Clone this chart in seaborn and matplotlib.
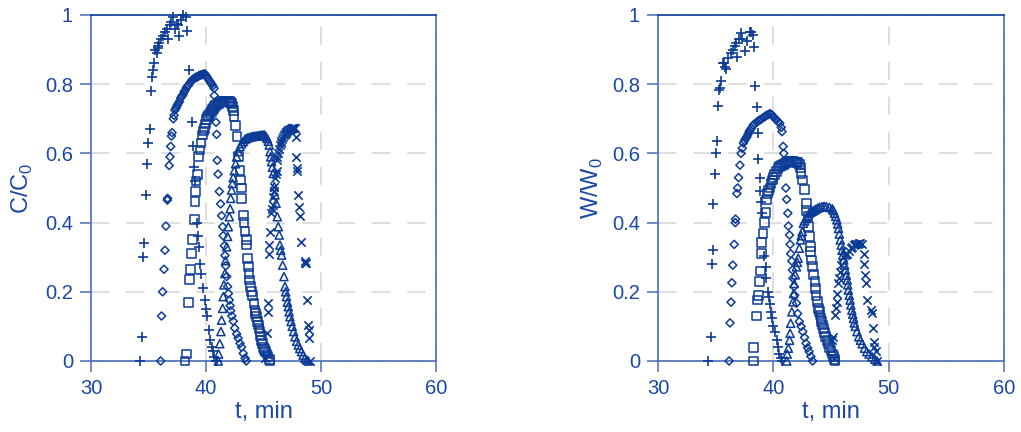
import matplotlib
matplotlib.use("Agg")
import matplotlib.pyplot as plt
import seaborn as sns
from matplotlib.ticker import FuncFormatter

# ---- data (t in min, relative values) ----
# left panel: C/C0
t_plus_c = [34.3, 34.45, 34.55, 34.64, 34.75, 34.9, 35.0, 35.13, 35.22, 35.3, 35.36, 35.5,
            35.6, 35.7, 35.8, 35.85, 35.95, 36.1, 36.25, 36.43, 36.6, 36.7, 36.87, 37.0,
            37.16, 37.3, 37.45, 37.6, 37.65, 37.8, 38.03, 38.3, 38.37, 38.55, 38.75, 38.84,
            38.99, 39.07, 39.19, 39.3, 39.39, 39.48, 39.57, 39.77, 39.9, 40.0, 40.1, 40.26,
            40.35, 40.5, 40.65, 40.7, 40.9, 41.0]
c_plus = [0.0, 0.07, 0.30, 0.34, 0.48, 0.57, 0.63, 0.67, 0.78, 0.82, 0.84, 0.86,
          0.90, 0.89, 0.91, 0.905, 0.92, 0.93, 0.94, 0.95, 0.96, 0.93, 0.97, 0.98,
          0.995, 0.96, 0.975, 0.97, 0.94, 0.985, 1.0, 0.995, 0.955, 0.84, 0.69, 0.62,
          0.56, 0.52, 0.40, 0.36, 0.33, 0.28, 0.25, 0.21, 0.175, 0.15, 0.13, 0.09,
          0.06, 0.04, 0.03, 0.012, 0.0, 0.0]

t_dia_c = [36.06, 36.14, 36.23, 36.35, 36.43, 36.52, 36.64, 36.66, 36.8, 36.87, 36.93, 37.0,
           37.05, 37.16, 37.23, 37.3, 37.38, 37.45, 37.52, 37.6, 37.7, 37.8, 37.9, 38.0,
           38.1, 38.2, 38.3, 38.4, 38.5, 38.6, 38.7, 38.8, 38.9, 39.0, 39.1, 39.2, 39.3,
           39.4, 39.5, 39.6, 39.7, 39.8, 39.9, 40.0, 40.1, 40.2, 40.3, 40.4, 40.5, 40.6,
           40.7, 40.72, 40.87, 40.93, 40.98, 41.05, 41.16, 41.27, 41.36, 41.45, 41.5, 41.6,
           41.65, 41.72, 41.8, 41.88, 41.95, 42.03, 42.1, 42.15, 42.25, 42.37, 42.5, 42.67,
           42.8, 42.96, 43.1, 43.24, 43.4, 43.5]
c_dia = [0.0, 0.13, 0.20, 0.265, 0.32, 0.39, 0.465, 0.47, 0.565, 0.59, 0.62, 0.65,
         0.66, 0.70, 0.71, 0.725, 0.73, 0.735, 0.74, 0.745, 0.75, 0.76, 0.765, 0.77,
         0.778, 0.783, 0.79, 0.795, 0.798, 0.803, 0.808, 0.812, 0.815, 0.817, 0.82, 0.82, 0.822,
         0.825, 0.826, 0.827, 0.828, 0.829, 0.83, 0.825, 0.82, 0.815, 0.81, 0.805, 0.80, 0.795,
         0.788, 0.767, 0.69, 0.655, 0.58, 0.54, 0.49, 0.454, 0.42, 0.388, 0.362, 0.333,
         0.305, 0.275, 0.244, 0.215, 0.195, 0.176, 0.16, 0.145, 0.13, 0.115, 0.095, 0.078,
         0.066, 0.051, 0.04, 0.022, 0.008, 0.0]

t_sq_c = [38.17, 38.3, 38.5, 38.6, 38.67, 38.75, 38.84, 38.99, 39.04, 39.1, 39.13, 39.25,
          39.33, 39.48, 39.57, 39.7, 39.8, 39.86, 39.95, 40.06, 40.15, 40.25, 40.35, 40.45,
          40.55, 40.64, 40.75, 40.85, 40.95, 41.07, 41.2, 41.35, 41.5, 41.65, 41.8, 41.94,
          42.05, 42.15, 42.23, 42.3, 42.37, 42.43, 42.58, 42.7, 42.8, 42.96, 43.0, 43.1,
          43.12, 43.24, 43.3, 43.4, 43.5, 43.53, 43.6, 43.68, 43.74, 43.8, 43.9, 43.98,
          44.06, 44.17, 44.26, 44.33, 44.4, 44.48, 44.55, 44.62, 44.7, 44.77, 44.84, 44.92,
          45.0, 45.1, 45.2, 45.3, 45.4, 45.5, 45.57]
c_sq = [0.0, 0.02, 0.17, 0.236, 0.265, 0.31, 0.35, 0.41, 0.46, 0.49, 0.52, 0.54,
        0.59, 0.61, 0.63, 0.653, 0.665, 0.672, 0.685, 0.697, 0.705, 0.71, 0.716, 0.722,
        0.727, 0.73, 0.735, 0.738, 0.742, 0.745, 0.747, 0.749, 0.75, 0.751, 0.751, 0.751,
        0.75, 0.748, 0.745, 0.735, 0.725, 0.706, 0.68, 0.648, 0.59, 0.55, 0.523, 0.50,
        0.47, 0.42, 0.40, 0.374, 0.35, 0.335, 0.297, 0.272, 0.253, 0.234, 0.215, 0.20,
        0.19, 0.167, 0.147, 0.137, 0.128, 0.115, 0.104, 0.095, 0.085, 0.072, 0.06, 0.05,
        0.04, 0.033, 0.027, 0.02, 0.012, 0.005, 0.0]

t_tri_c = [41.07, 41.1, 41.2, 41.3, 41.36, 41.45, 41.5, 41.56, 41.65, 41.7, 41.8, 41.88,
           41.94, 42.03, 42.1, 42.15, 42.23, 42.3, 42.37, 42.46, 42.58, 42.67, 42.8, 42.96,
           43.1, 43.24, 43.37, 43.5, 43.65, 43.8, 43.97, 44.1, 44.25, 44.4, 44.55, 44.7,
           44.84, 44.97, 45.1, 45.22, 45.33, 45.42, 45.5, 45.57, 45.63, 45.7, 45.78, 45.85,
           45.94, 46.0, 46.1, 46.2, 46.29, 46.37, 46.43, 46.5, 46.58, 46.67, 46.78, 46.87,
           46.93, 47.0, 47.08, 47.16, 47.23, 47.3, 47.4, 47.5, 47.62, 47.74, 47.88, 48.03,
           48.15, 48.3, 48.45, 48.6, 48.75, 48.9]
c_tri = [0.0, 0.02, 0.05, 0.085, 0.118, 0.152, 0.186, 0.22, 0.253, 0.29, 0.33, 0.36,
         0.388, 0.417, 0.44, 0.47, 0.494, 0.513, 0.53, 0.55, 0.57, 0.59, 0.605, 0.62,
         0.628, 0.634, 0.64, 0.643, 0.645, 0.647, 0.648, 0.649, 0.65, 0.65, 0.651, 0.652,
         0.653, 0.653, 0.653, 0.648, 0.643, 0.635, 0.624, 0.605, 0.59, 0.576, 0.56, 0.542,
         0.504, 0.48, 0.456, 0.417, 0.388, 0.364, 0.335, 0.32, 0.306, 0.277, 0.244, 0.215,
         0.20, 0.186, 0.17, 0.157, 0.142, 0.128, 0.114, 0.10, 0.085, 0.07, 0.057, 0.046,
         0.036, 0.027, 0.017, 0.008, 0.003, 0.0]

t_x_c = [45.13, 45.27, 45.42, 45.42, 45.5, 45.5, 45.57, 45.65, 45.72, 45.8, 45.85, 45.9,
         45.94, 46.0, 46.07, 46.14, 46.14, 46.22, 46.29, 46.36, 46.43, 46.5, 46.55, 46.63,
         46.72, 46.8, 46.85, 46.92, 47.0, 47.08, 47.15, 47.22, 47.3, 47.38, 47.45, 47.52,
         47.6, 47.68, 47.74, 47.83, 47.83, 47.88, 47.9, 48.03, 48.1, 48.17, 48.23, 48.6,
         48.65, 48.7, 48.8, 48.9, 48.95, 48.96, 49.04]
c_x = [0.008, 0.08, 0.142, 0.167, 0.31, 0.335, 0.374, 0.427, 0.44, 0.45, 0.475, 0.49,
       0.504, 0.53, 0.54, 0.55, 0.58, 0.59, 0.60, 0.612, 0.624, 0.63, 0.635, 0.642,
       0.648, 0.652, 0.656, 0.66, 0.663, 0.665, 0.667, 0.668, 0.67, 0.671, 0.672, 0.672,
       0.673, 0.673, 0.672, 0.648, 0.59, 0.557, 0.55, 0.48, 0.444, 0.42, 0.343, 0.284,
       0.29, 0.284, 0.176, 0.104, 0.09, 0.066, 0.0]

# right panel: W/W0
t_plus_w = [34.35, 34.55, 34.7, 34.73, 34.8, 34.94, 35.03, 35.14, 35.23, 35.3, 35.35, 35.5,
            35.65, 35.75, 35.8, 35.9, 36.1, 36.3, 36.5, 36.65, 36.8, 36.85, 37.0, 37.2,
            37.3, 37.5, 37.7, 37.95, 38.1, 38.23, 38.3, 38.44, 38.55, 38.64, 38.7, 38.8,
            38.85, 38.9, 39.0, 39.2, 39.35, 39.35, 39.5, 39.65, 39.7, 39.8, 39.9, 40.0,
            40.1, 40.3, 40.4, 40.5, 40.65, 40.75]
w_plus = [0.0, 0.07, 0.28, 0.32, 0.454, 0.54, 0.60, 0.636, 0.737, 0.784, 0.79, 0.81,
          0.86, 0.862, 0.85, 0.845, 0.875, 0.89, 0.90, 0.91, 0.918, 0.88, 0.93, 0.947,
          0.93, 0.895, 0.925, 0.952, 0.95, 0.942, 0.908, 0.795, 0.733, 0.658, 0.583, 0.528,
          0.49, 0.46, 0.427, 0.303, 0.272, 0.239, 0.20, 0.186, 0.165, 0.142, 0.123, 0.10,
          0.085, 0.06, 0.04, 0.02, 0.008, 0.0]

t_dia_w = [36.16, 36.24, 36.33, 36.4, 36.48, 36.6, 36.7, 36.72, 36.84, 36.9, 36.98, 37.1,
           37.2, 37.3, 37.4, 37.5, 37.6, 37.7, 37.8, 37.9, 37.97, 38.1, 38.26, 38.4,
           38.55, 38.7, 38.85, 39.0, 39.15, 39.3, 39.4, 39.55, 39.7, 39.85, 40.0, 40.15,
           40.27, 40.4, 40.55, 40.68, 40.75, 40.85, 40.9, 41.08, 41.15, 41.25, 41.3, 41.4,
           41.45, 41.5, 41.6, 41.65, 41.7, 41.8, 41.85, 42.0, 42.1, 42.25, 42.4, 42.55,
           42.7, 42.83, 42.97, 43.1, 43.25, 43.4]
w_dia = [0.0, 0.11, 0.17, 0.226, 0.277, 0.337, 0.40, 0.41, 0.484, 0.50, 0.53, 0.566,
         0.60, 0.615, 0.63, 0.637, 0.643, 0.648, 0.655, 0.662, 0.667, 0.673, 0.682, 0.686,
         0.69, 0.694, 0.697, 0.70, 0.704, 0.707, 0.71, 0.712, 0.715, 0.712, 0.706, 0.70,
         0.697, 0.692, 0.687, 0.675, 0.663, 0.62, 0.60, 0.50, 0.467, 0.427, 0.39, 0.364,
         0.337, 0.31, 0.289, 0.263, 0.239, 0.215, 0.19, 0.167, 0.137, 0.114, 0.10, 0.085,
         0.068, 0.051, 0.038, 0.027, 0.013, 0.0]

t_sq_w = [38.26, 38.3, 38.55, 38.64, 38.7, 38.8, 38.85, 38.96, 39.0, 39.1, 39.2, 39.3,
          39.4, 39.5, 39.6, 39.7, 39.8, 39.9, 39.97, 40.1, 40.25, 40.4, 40.55, 40.7,
          40.85, 41.0, 41.15, 41.3, 41.45, 41.6, 41.75, 41.9, 42.0, 42.1, 42.25, 42.36,
          42.4, 42.55, 42.7, 42.85, 42.9, 43.0, 43.05, 43.1, 43.2, 43.25, 43.3, 43.4,
          43.5, 43.6, 43.65, 43.7, 43.8, 43.9, 43.97, 44.05, 44.12, 44.2, 44.28, 44.35,
          44.45, 44.55, 44.68, 44.8, 44.9, 45.0, 45.1, 45.2, 45.28, 45.35]
w_sq = [0.0, 0.04, 0.13, 0.176, 0.19, 0.23, 0.26, 0.31, 0.342, 0.369, 0.40, 0.43,
        0.465, 0.484, 0.493, 0.50, 0.513, 0.523, 0.53, 0.538, 0.548, 0.557, 0.562, 0.566,
        0.569, 0.571, 0.573, 0.575, 0.576, 0.576, 0.576, 0.575, 0.574, 0.573, 0.568, 0.56,
        0.542, 0.523, 0.496, 0.456, 0.436, 0.417, 0.388, 0.36, 0.33, 0.316, 0.292, 0.272,
        0.249, 0.23, 0.21, 0.19, 0.171, 0.152, 0.142, 0.133, 0.123, 0.114, 0.104, 0.094,
        0.082, 0.07, 0.06, 0.05, 0.04, 0.03, 0.02, 0.012, 0.005, 0.0]

t_tri_w = [41.16, 41.2, 41.3, 41.4, 41.45, 41.5, 41.6, 41.7, 41.75, 41.8, 41.9, 42.0,
           42.08, 42.15, 42.25, 42.35, 42.42, 42.5, 42.6, 42.72, 42.85, 42.97, 43.1, 43.25,
           43.4, 43.55, 43.7, 43.85, 44.0, 44.2, 44.4, 44.6, 44.85, 45.1, 45.2, 45.3,
           45.4, 45.5, 45.58, 45.65, 45.72, 45.8, 45.88, 45.95, 46.02, 46.1, 46.18, 46.25,
           46.32, 46.4, 46.45, 46.5, 46.58, 46.65, 46.72, 46.8, 46.88, 46.95, 47.02, 47.1,
           47.25, 47.4, 47.55, 47.7, 47.9, 48.1, 48.3, 48.55, 48.8, 49.0]
w_tri = [0.0, 0.02, 0.037, 0.06, 0.08, 0.109, 0.142, 0.171, 0.195, 0.224, 0.249, 0.272,
         0.285, 0.297, 0.326, 0.35, 0.362, 0.374, 0.398, 0.405, 0.412, 0.42, 0.427, 0.43,
         0.433, 0.436, 0.439, 0.442, 0.444, 0.446, 0.447, 0.446, 0.444, 0.44, 0.435, 0.427,
         0.418, 0.408, 0.396, 0.383, 0.367, 0.35, 0.335, 0.32, 0.306, 0.292, 0.277, 0.263,
         0.248, 0.234, 0.22, 0.205, 0.19, 0.176, 0.162, 0.147, 0.135, 0.123, 0.11, 0.10,
         0.085, 0.07, 0.06, 0.05, 0.037, 0.027, 0.02, 0.012, 0.005, 0.0]

t_x_w = [45.1, 45.2, 45.25, 45.35, 45.4, 45.5, 45.55, 45.6, 45.7, 45.8, 45.9, 46.05,
         46.2, 46.3, 46.4, 46.55, 46.7, 46.85, 47.0, 47.1, 47.2, 47.3, 47.4, 47.55,
         47.7, 47.85, 47.9, 47.95, 48.0, 48.1, 48.5, 48.55, 48.6, 48.7, 48.75, 48.9, 49.0]
w_x = [0.06, 0.07, 0.01, 0.133, 0.152, 0.171, 0.195, 0.224, 0.24, 0.258, 0.277, 0.30,
       0.305, 0.308, 0.31, 0.318, 0.326, 0.33, 0.335, 0.337, 0.338, 0.339, 0.34, 0.34,
       0.338, 0.31, 0.28, 0.249, 0.224, 0.176, 0.147, 0.14, 0.094, 0.056, 0.04, 0.03, 0.0]

x_ticks = [30, 40, 50, 60]
y_ticks = [0, 0.2, 0.4, 0.6, 0.8, 1]

BLUE = "#0b3b96"
TEXT = "#1a46a6"
SPINE = "#4a6cb8"
GRID = "#d4d4d4"

sns.set_style("white")
plt.rcParams["font.family"] = ["Liberation Sans", "DejaVu Sans"]
plt.rcParams["mathtext.fontset"] = "custom"
plt.rcParams["mathtext.rm"] = "Liberation Sans"


def draw_panel(ax, groups, ylabel, ypad):
    # each group: (t, values, marker, size)
    for t, v, mk, size in groups:
        if mk in ("+", "x"):
            sns.scatterplot(x=t, y=v, marker=mk, s=size, color=BLUE, linewidth=1.2,
                            clip_on=False, zorder=3, ax=ax)
        else:
            sns.scatterplot(x=t, y=v, marker=mk, s=size, color=BLUE, facecolor="none",
                            edgecolor=BLUE, linewidth=1.1, clip_on=False, zorder=3, ax=ax)

    ax.set_xlim(30, 60)
    ax.set_ylim(0, 1)
    ax.set_xticks(x_ticks)
    ax.set_yticks(y_ticks)
    ax.yaxis.set_major_formatter(FuncFormatter(lambda v, p: f"{v:g}"))
    ax.grid(True, color=GRID, linestyle=(0, (12, 11)), linewidth=1.1)
    ax.set_axisbelow(True)

    for side in ["left", "right", "bottom"]:
        ax.spines[side].set_color(SPINE)
        ax.spines[side].set_linewidth(1.2)
    ax.spines["top"].set_color(BLUE)
    ax.spines["top"].set_linewidth(1.2)

    ax.tick_params(axis="both", direction="out", length=8, width=1.1, color=SPINE,
                   labelcolor=TEXT, labelsize=14.5, pad=5)
    ax.tick_params(axis="x", bottom=True, top=False)
    ax.tick_params(axis="y", left=True, right=False)
    for tk in ax.xaxis.get_major_ticks()[1:3]:
        tk.tick1line.set_color("#c8c8c8")

    ax.set_xlabel("t, min", fontsize=17, color=TEXT, labelpad=2)
    ax.set_ylabel(ylabel, fontsize=17, color=TEXT, labelpad=ypad)


fig = plt.figure(figsize=(10.21, 4.32), dpi=100)
ax1 = fig.add_axes([0.0891, 0.1644, 0.3379, 0.8009])
ax2 = fig.add_axes([0.6445, 0.1644, 0.3389, 0.8009])

draw_panel(ax1, [(t_plus_c, c_plus, "+", 55), (t_dia_c, c_dia, "D", 17),
                 (t_sq_c, c_sq, "s", 40), (t_tri_c, c_tri, "^", 34),
                 (t_x_c, c_x, "x", 36)], r"C/C$_\mathregular{0}$", 7)
draw_panel(ax2, [(t_plus_w, w_plus, "+", 55), (t_dia_w, w_dia, "D", 17),
                 (t_sq_w, w_sq, "s", 40), (t_tri_w, w_tri, "^", 34),
                 (t_x_w, w_x, "x", 36)], r"W/W$_\mathregular{0}$", 5)

fig.savefig("out.png", dpi=100)
